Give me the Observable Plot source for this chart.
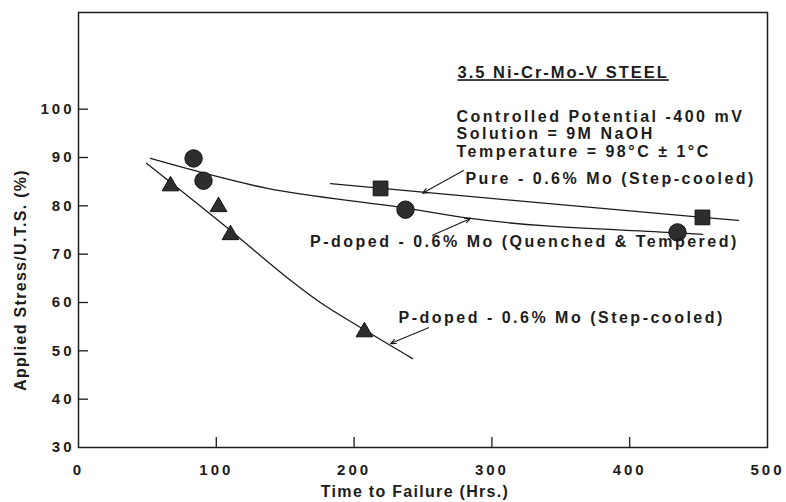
<!DOCTYPE html>
<html>
<head>
<meta charset="utf-8">
<script src="https://cdn.jsdelivr.net/npm/d3@7"></script>
<script src="https://cdn.jsdelivr.net/npm/@observablehq/plot@0.6"></script>
<style>
  html, body { margin: 0; padding: 0; background: #ffffff; }
  #chart svg { display: block; }
  #chart g[aria-label="x-axis tick label"] text,
  #chart g[aria-label="y-axis tick label"] text { letter-spacing: 3px; font-size: 15px; }
</style>
</head>
<body>
<div id="chart"></div>
<script>
// ---- axis ticks ----
const timeTicks = [0, 100, 200, 300, 400, 500];
const stressTicks = [30, 40, 50, 60, 70, 80, 90, 100];

// ---- measured points ----
// P-doped - 0.6% Mo (Quenched & Tempered): circles
const qtHrs = [83.5, 90.7, 237.3, 434.7];
const qtStress = [89.8, 85.2, 79.2, 74.5];
// Pure - 0.6% Mo (Step-cooled): squares
const pureHrs = [219.2, 452.8];
const pureStress = [83.6, 77.6];
// P-doped - 0.6% Mo (Step-cooled): triangles
const stepHrs = [66.8, 101.6, 110.3, 207.5];
const stepStress = [84.1, 79.8, 74.0, 53.9];

// ---- fitted curves ----
const qtCurveHrs = [52.2, 137.2, 233.7, 284.5, 434.7, 453.0];
const qtCurveStress = [89.8, 83.6, 79.7, 77.4, 74.4, 74.1];
const pureCurveHrs = [182.9, 251.8, 452.8, 478.9];
const pureCurveStress = [84.6, 82.8, 77.6, 77.0];
const stepCurveHrs = [49.3, 110.3, 153.8, 173.4, 208.3, 242.4];
const stepCurveStress = [88.8, 74.9, 64.6, 60.4, 54.2, 48.4];

// ---- annotations ----
const headingText = ["3.5 Ni-Cr-Mo-V STEEL"];
const headingHrs = [275.0];
const headingStress = [107.5];
const conditionLines = ["Controlled Potential -400 mV", "Solution = 9M NaOH", "Temperature = 98°C ± 1°C"];
const conditionHrs = [274.3];
const conditionStress = [100.0];
const seriesLabels = ["Pure - 0.6% Mo (Step-cooled)", "P-doped - 0.6% Mo (Quenched & Tempered)", "P-doped - 0.6% Mo (Step-cooled)"];
const seriesLabelHrs = [280.8, 168.0, 232.2];
const seriesLabelStress = [85.5, 72.5, 56.8];
const arrowFromHrs = [279.4, 256.9, 254.0];
const arrowFromStress = [87.3, 73.9, 54.8];
const arrowToHrs = [249.6, 284.5, 226.4];
const arrowToStress = [82.6, 77.4, 51.5];

const xLabel = "Time to Failure (Hrs.)";
const yLabel = "Applied Stress/U.T.S. (%)";

// ---- build tables ----
const zip = (xs, ys) => xs.map((x, i) => ({x, y: ys[i]}));
const qtPts = zip(qtHrs, qtStress);
const purePts = zip(pureHrs, pureStress);
const stepPts = zip(stepHrs, stepStress);
const qtCurve = zip(qtCurveHrs, qtCurveStress);
const pureCurve = zip(pureCurveHrs, pureCurveStress);
const stepCurve = zip(stepCurveHrs, stepCurveStress);
const heading = headingText.map((t, i) => ({t, x: headingHrs[i], y: headingStress[i]}));
const conditions = [{t: conditionLines.join("\n"), x: conditionHrs[0], y: conditionStress[0]}];
const notes = seriesLabels.map((t, i) => ({t, x: seriesLabelHrs[i], y: seriesLabelStress[i]}));
const arrows = arrowFromHrs.map((x1, i) => ({x1, y1: arrowFromStress[i], x2: arrowToHrs[i], y2: arrowToStress[i]}));

const W = 786, H = 502;
const mL = 78, mR = 19, mT = 12, mB = 55;
const innerW = W - mL - mR, innerH = H - mT - mB;
const ink = "#1c1c1c";
const markFill = "#2e2e2e";

const chart = Plot.plot({
  width: W,
  height: H,
  marginLeft: mL, marginRight: mR, marginTop: mT, marginBottom: mB,
  style: {fontFamily: "'Liberation Sans', Arial, sans-serif", fontWeight: "bold", color: ink, background: "#ffffff"},
  x: {domain: [0, 500]},
  y: {domain: [30, 120]},
  marks: [
    Plot.frame({stroke: ink, strokeWidth: 1.5}),
    Plot.ruleX(timeTicks.slice(1, -1), {stroke: ink, strokeWidth: 1.3, insetTop: innerH - 10}),
    Plot.ruleY(stressTicks.slice(1), {stroke: ink, strokeWidth: 1.3, insetRight: innerW - 10}),
    Plot.axisX({ticks: timeTicks, tickSize: 0, tickPadding: 17, label: null}),
    Plot.axisY({ticks: stressTicks, tickSize: 0, tickPadding: 4, label: null}),
    Plot.text([xLabel], {frameAnchor: "bottom", text: d => d, textAnchor: "middle", dx: -8, dy: 44, fontSize: 16, fill: ink, lineAnchor: "middle"}),
    Plot.text([yLabel], {frameAnchor: "left", text: d => d, textAnchor: "middle", dx: -58, dy: 50, rotate: -90, fontSize: 16, fill: ink, lineAnchor: "middle"}),
    Plot.line(qtCurve, {x: "x", y: "y", curve: "monotone-x", stroke: ink, strokeWidth: 1.3}),
    Plot.line(pureCurve, {x: "x", y: "y", curve: "monotone-x", stroke: ink, strokeWidth: 1.3}),
    Plot.line(stepCurve, {x: "x", y: "y", curve: "monotone-x", stroke: ink, strokeWidth: 1.3}),
    Plot.arrow(arrows, {x1: "x1", y1: "y1", x2: "x2", y2: "y2", stroke: ink, strokeWidth: 1.1, headLength: 8, headAngle: 45}),
    Plot.dot(qtPts, {x: "x", y: "y", symbol: "circle", r: 8.7, fill: markFill, stroke: "#111", strokeWidth: 1}),
    Plot.dot(purePts, {x: "x", y: "y", symbol: "square", r: 8.3, fill: markFill, stroke: "#111", strokeWidth: 1}),
    Plot.dot(stepPts, {x: "x", y: "y", symbol: "triangle", r: 6.2, fill: markFill, stroke: "#111", strokeWidth: 1}),
    Plot.text(heading, {x: "x", y: "y", text: "t", textAnchor: "start", fontSize: 16.5, fill: ink}),
    Plot.text(conditions, {x: "x", y: "y", text: "t", textAnchor: "start", lineAnchor: "top", lineHeight: 1.1, fontSize: 16, fill: ink}),
    Plot.text(notes, {x: "x", y: "y", text: "t", textAnchor: "start", fontSize: 16, fill: ink})
  ]
});
document.getElementById("chart").appendChild(chart);

// typographic tweaks: tracking of the original lettering, underlined heading
const svg = d3.select(chart);
svg.selectAll('g[aria-label="text"] text').style("letter-spacing", function () {
  const t = this.textContent;
  return (t === xLabel || t === yLabel) ? "1.3px" : "2.5px";
});
svg.selectAll('g[aria-label="text"] text')
  .filter(function () { return headingText.includes(this.textContent); })
  .style("letter-spacing", "2px")
  .style("text-decoration", "underline")
  .style("text-decoration-thickness", "2px")
  .style("text-underline-offset", "7px");
</script>
</body>
</html>
